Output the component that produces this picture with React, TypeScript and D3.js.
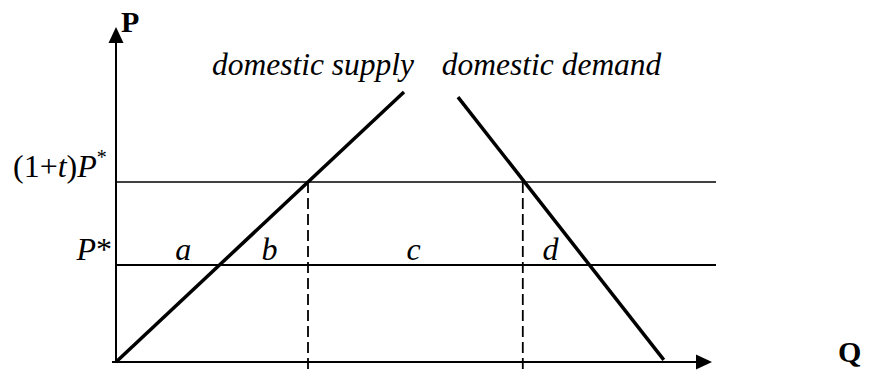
import React from "react";
import * as d3 from "d3";

// Data in abstract (Q, P) units
const supplyLine: [number, number][] = [[0, 0], [48, 90]];
const demandLine: [number, number][] = [[57, 88.3], [91.3, 0.7]];
const priceLevels = [
  { key: "tariff", p: 60, width: 1.6 },
  { key: "world", p: 32.3, width: 2 },
];
const dashedQs = [32, 67.8];
const areaLabels = ["a", "b", "c", "d"];
const areaLabelQs = [11.2, 25.6, 49.6, 72.4];
const areaLabelP = 34;
const curveLabels = ["domestic supply", "domestic demand"];
const curveLabelQs = [16, 54.3];
const curveLabelP = 95.7;

const W = 873;
const H = 372;

export default function App() {
  const x = d3.scaleLinear().domain([0, 100]).range([116, 716]);
  const y = d3.scaleLinear().domain([0, 100]).range([362, 62]);
  const line = d3
    .line<[number, number]>()
    .x((d) => x(d[0]))
    .y((d) => y(d[1]));

  const x0 = x(0);
  const y0 = y(0);
  const yTip = 27;
  const xTip = 712;
  const font = "'Liberation Serif', 'Times New Roman', serif";

  return (
    <svg
      width={W}
      height={H}
      style={{ position: "absolute", left: 0, top: 0, background: "#fff" }}
      fontFamily={font}
    >
      {/* horizontal price lines */}
      {priceLevels.map((l) => (
        <line
          key={l.key}
          x1={x0}
          x2={x(100)}
          y1={y(l.p)}
          y2={y(l.p)}
          stroke="#000"
          strokeWidth={l.width}
        />
      ))}
      {/* dashed verticals */}
      {dashedQs.map((q, i) => (
        <line
          key={i}
          x1={x(q)}
          x2={x(q)}
          y1={y(priceLevels[0].p)}
          y2={H}
          stroke="#000"
          strokeWidth={1.8}
          strokeDasharray="11,5"
        />
      ))}
      {/* axes */}
      <line x1={x0} x2={x0} y1={y0} y2={yTip + 10} stroke="#000" strokeWidth={2} />
      <path
        d={`M${x0},${yTip} L${x0 - 7.5},${yTip + 16} L${x0 + 7.5},${yTip + 16} Z`}
        fill="#000"
      />
      <line x1={x0 - 4} x2={xTip - 10} y1={y0} y2={y0} stroke="#000" strokeWidth={2} />
      <path
        d={`M${xTip},${y0} L${xTip - 16},${y0 - 7.5} L${xTip - 16},${y0 + 7.5} Z`}
        fill="#000"
      />
      {/* supply and demand */}
      <path d={line(supplyLine) || ""} stroke="#000" strokeWidth={3.5} fill="none" />
      <path d={line(demandLine) || ""} stroke="#000" strokeWidth={3.5} fill="none" />

      {/* axis labels */}
      <text x={121} y={32} fontSize={30} fontWeight="bold">
        P
      </text>
      <text x={838} y={362} fontSize={30} fontWeight="bold">
        Q
      </text>

      {/* price labels */}
      <text x={13} y={y(priceLevels[0].p) - 5} fontSize={32}>
        (1+<tspan fontStyle="italic">t</tspan>)<tspan fontStyle="italic">P</tspan>
        <tspan fontSize={20} dy={-13}>*</tspan>
      </text>
      <text x={112} y={y(priceLevels[1].p) - 5} fontSize={32} textAnchor="end">
        <tspan fontStyle="italic">P</tspan>*
      </text>

      {/* area labels */}
      {areaLabels.map((t, i) => (
        <text
          key={t}
          x={x(areaLabelQs[i])}
          y={y(areaLabelP)}
          fontSize={32}
          fontStyle="italic"
          textAnchor="middle"
        >
          {t}
        </text>
      ))}

      {/* curve labels */}
      {curveLabels.map((t, i) => (
        <text key={t} x={x(curveLabelQs[i])} y={y(curveLabelP)} fontSize={31.5} fontStyle="italic">
          {t}
        </text>
      ))}
    </svg>
  );
}
